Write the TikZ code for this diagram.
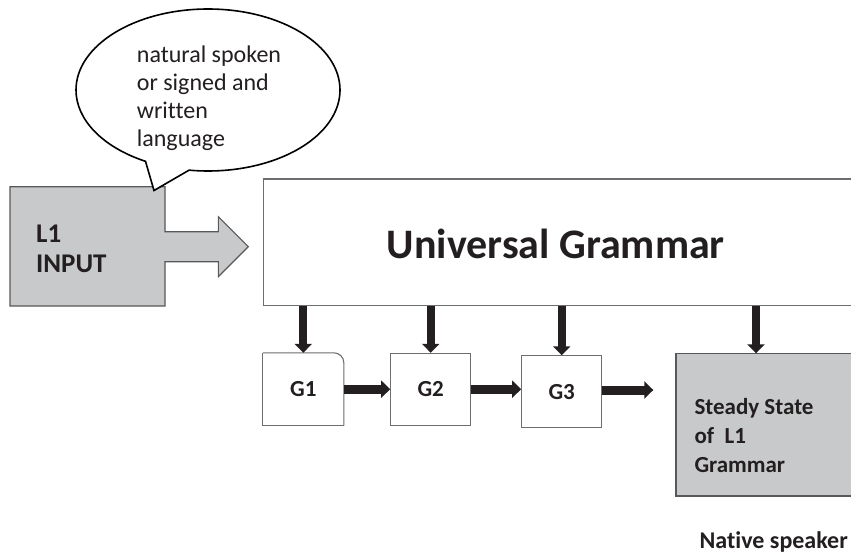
\documentclass[tikz,border=0pt]{standalone}
\usepackage{fontspec}
\setmainfont{Carlito}[Ligatures=NoCommon]
\usetikzlibrary{arrows.meta,shapes.callouts}
\definecolor{inkc}{HTML}{231F20}
\definecolor{boxline}{HTML}{6D6E71}
\definecolor{grayfill}{HTML}{C8C9CA}
\tikzset{
  gbox/.style={rectangle, fill=white, draw=boxline, line width=1.1pt, minimum width=80pt, minimum height=71.7pt, inner sep=0pt, font=\fontsize{23}{27}\selectfont\bfseries, text=inkc},
  gline/.style={draw=boxline, line width=1.1pt},
  downarrow/.style={draw=inkc, line width=8pt, -{Triangle[width=17pt,length=9pt]}},
  rightarrow/.style={draw=inkc, line width=9pt, -{Triangle[width=17pt,length=9pt]}},
  txt/.style={inner sep=0pt, text=inkc},
}
\begin{document}
\begin{tikzpicture}[x=1pt,y=-1pt]
\clip (0,0) rectangle (851,554);
\fill[white] (0,0) rectangle (851,554);

% L1 input block arrow
\path[fill=grayfill, draw=boxline!80!black, line width=1.1pt]
  (10,186.7) -- (165,186.7) -- (165,231.7) -- (218.3,231.7) -- (218.3,216.7)
  -- (248.3,246.7) -- (218.3,276.7) -- (218.3,261.7) -- (165,261.7)
  -- (165,306) -- (10,306) -- cycle;
\node[txt, anchor=north west, align=left, font=\fontsize{27}{30}\selectfont\bfseries] (l1)
  at (36,220) {\rule{0pt}{22pt}L1\\INPUT};

% speech bubble
\node[ellipse callout, draw=black, fill=white, line width=1.6pt, minimum width=264pt,
  minimum height=162pt, inner sep=0pt, callout pointer arc=20,
  callout absolute pointer={(154,190.5)}] (bubble) at (208,90) {};
\node[txt, anchor=north west, align=left, font=\fontsize{24}{28}\selectfont] (bubtext)
  at (136.7,42) {\rule{0pt}{20pt}natural spoken\\or signed and\\written\\language};

% Universal Grammar
\node[rectangle, fill=white, draw=boxline, line width=1.1pt, minimum width=636.7pt,
  minimum height=126.7pt, inner sep=0pt] (ug) at (581.65,242.35) {};
\node[txt, anchor=base, font=\fontsize{42}{46}\selectfont\bfseries] (ugtext)
  at (555.8,258.3) {Universal Grammar};

% G boxes
\node[gbox, draw=none] (g1) at (303.3,389.2) {G1};
\draw[gline, rounded corners=10pt] (g1.north west) -- (g1.north east) -- (g1.south east);
\draw[gline] (g1.south east) -- (g1.south west) -- (g1.north west);
\node[gbox] (g2) at (430.7,389.2) {G2};
\node[gbox] (g3) at (561.7,391.65) {G3};

% Steady state
\node[rectangle, fill=grayfill, draw=boxline!80!black, line width=1.1pt, minimum width=224pt,
  minimum height=142.7pt, inner sep=0pt] (steady) at (788,424.65) {};
\node[txt, anchor=north west, align=left, font=\fontsize{23}{29}\selectfont\bfseries] (stext)
  at (694.3,394) {\rule{0pt}{20pt}Steady State\\of\ \ L1\\Grammar};

\node[txt, anchor=base east, font=\fontsize{24}{28}\selectfont\bfseries] (native)
  at (848,548) {Native speaker};

% arrows
\coordinate (s4) at (756,353.3);
\draw[downarrow] (ug.south -| g1.north) -- (g1.north);
\draw[downarrow] (ug.south -| g2.north) -- (g2.north);
\draw[downarrow] (ug.south -| g3.north) -- (g3.north);
\draw[downarrow] (ug.south -| s4) -- (s4);

\coordinate (a3end) at (653.3,390);
\draw[rightarrow] (g1.east) -- (g2.west);
\draw[rightarrow] (g2.east) -- (g2.east -| g3.west);
\draw[rightarrow] (g3.east |- a3end) -- (a3end);
\end{tikzpicture}
\end{document}
